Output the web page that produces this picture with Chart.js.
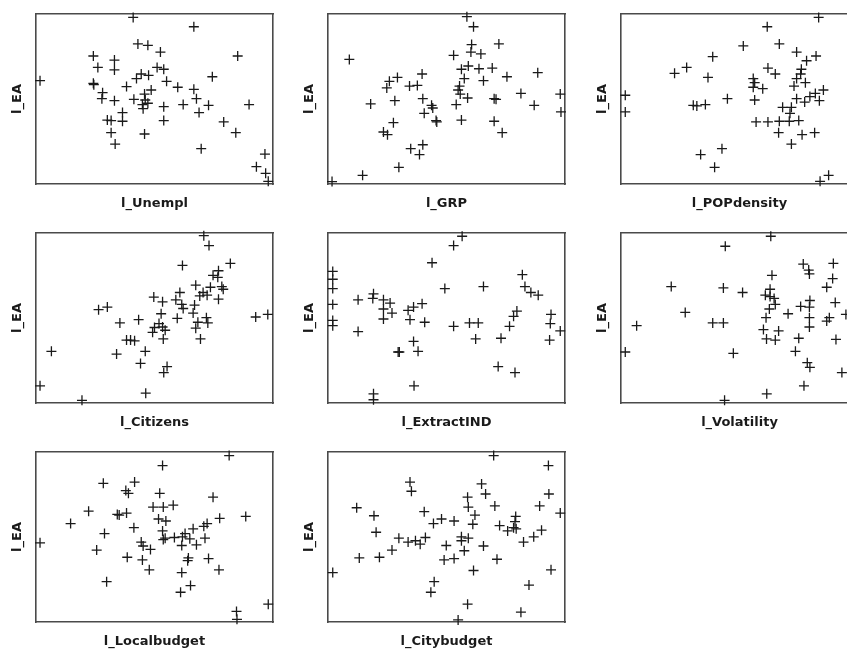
<!DOCTYPE html>
<html>
<head>
<meta charset="utf-8">
<title>l_EA scatter panels</title>
<script src="https://cdn.jsdelivr.net/npm/chart.js@4"></script>
<style>
  html, body { margin: 0; padding: 0; background: #fff; overflow: hidden; }
  body { width: 847px; height: 649px; position: relative; }
  .panel { position: absolute; }
</style>
</head>
<body>
<div id="wrap"></div>
<script>
'use strict';

// ── Data (values on a 0–100 scale inside each panel box) ──────────────────────

const unemplX = [41.0, 66.6, 43.0, 47.2, 52.5, 24.2, 85.1, 33.1, 26.1, 51.1, 53.9, 33.1, 44.4, 47.5, 42.4, 74.4, 1.7, 24.2, 24.4, 55.1, 38.2, 59.8, 66.6, 48.6, 28.1, 45.8, 27.8, 67.7, 33.1, 41.3, 46.1, 44.9, 47.2, 62.1, 72.8, 89.9, 53.9, 45.2, 36.5, 68.8, 30.1, 31.7, 36.5, 53.9, 79.2, 31.7, 45.8, 84.3, 33.4, 69.7, 96.6, 93.0, 96.9, 98.0];
const unemplY = [98.0, 92.5, 82.4, 81.6, 77.6, 75.3, 75.3, 72.9, 68.6, 68.6, 67.5, 67.1, 64.7, 63.9, 62.0, 63.1, 60.8, 59.2, 58.4, 60.4, 57.3, 56.9, 55.7, 55.3, 53.7, 52.9, 50.2, 50.2, 49.0, 49.8, 49.4, 46.7, 47.5, 46.7, 46.3, 46.7, 45.5, 44.3, 42.0, 42.0, 37.6, 37.3, 36.9, 37.3, 36.5, 30.2, 29.4, 30.2, 23.5, 20.8, 17.6, 10.2, 6.3, 1.6];

const grpX = [58.6, 61.4, 60.6, 72.1, 60.3, 64.5, 53.0, 9.0, 59.2, 56.3, 63.7, 69.3, 88.5, 39.7, 75.5, 29.3, 25.9, 57.5, 65.6, 34.4, 37.7, 24.8, 55.5, 54.9, 55.8, 81.4, 98.0, 58.9, 40.0, 70.1, 70.9, 28.2, 18.0, 54.1, 43.7, 44.2, 87.0, 40.6, 98.3, 45.6, 45.9, 56.3, 70.1, 27.6, 23.4, 25.1, 73.5, 40.0, 34.9, 38.6, 29.9, 14.6, 1.7];
const grpY = [98.4, 92.5, 82.0, 82.4, 77.6, 76.5, 75.7, 73.3, 69.4, 67.5, 67.8, 68.2, 65.5, 64.7, 63.1, 62.7, 60.4, 62.0, 60.8, 57.6, 58.0, 56.5, 57.6, 55.3, 52.9, 53.3, 52.9, 50.6, 50.2, 50.2, 49.8, 49.0, 47.1, 46.7, 46.3, 44.7, 46.3, 41.6, 42.4, 37.3, 36.5, 37.6, 36.9, 36.1, 30.6, 29.0, 30.2, 23.1, 20.8, 17.3, 9.8, 5.1, 1.4];

const popX = [83.4, 61.7, 51.6, 66.8, 38.7, 74.1, 82.3, 78.3, 27.7, 22.6, 62.0, 65.1, 76.1, 75.8, 36.7, 74.1, 55.8, 56.4, 77.8, 55.8, 73.0, 59.8, 1.8, 85.4, 82.0, 44.9, 56.4, 74.1, 79.7, 83.7, 77.5, 30.5, 32.0, 35.6, 1.8, 68.2, 71.9, 71.3, 57.0, 62.0, 66.8, 71.0, 75.0, 66.5, 76.4, 81.7, 71.9, 42.6, 33.6, 39.5, 87.6, 84.0];
const popY = [98.0, 92.5, 81.2, 82.4, 74.9, 77.6, 75.3, 72.5, 68.6, 65.1, 68.2, 64.7, 67.5, 64.7, 62.7, 62.0, 62.0, 59.6, 59.6, 56.9, 57.6, 56.1, 52.2, 55.3, 53.3, 50.2, 49.4, 50.2, 51.4, 49.0, 48.2, 46.3, 45.9, 46.7, 42.4, 45.1, 45.1, 41.6, 36.5, 36.5, 36.9, 36.9, 37.3, 30.2, 29.0, 30.2, 23.5, 20.8, 17.3, 9.8, 5.1, 1.6];

const citizensX = [70.8, 73.0, 61.8, 82.0, 77.0, 74.7, 76.7, 67.4, 73.6, 78.4, 79.0, 60.7, 70.5, 69.1, 72.2, 49.7, 53.4, 59.0, 77.0, 61.5, 62.1, 66.9, 26.4, 30.1, 52.8, 66.3, 71.9, 59.6, 92.7, 97.8, 43.3, 35.4, 51.9, 68.3, 72.5, 50.0, 53.4, 54.5, 49.2, 67.4, 38.2, 39.9, 41.6, 53.7, 69.4, 6.5, 46.1, 34.0, 44.1, 55.3, 53.9, 1.7, 46.3, 19.4];
const citizensY = [98.4, 92.6, 80.9, 82.1, 77.8, 75.1, 73.9, 69.3, 68.1, 68.5, 66.9, 65.0, 65.0, 63.0, 63.4, 62.3, 59.5, 60.7, 61.1, 58.0, 55.6, 57.6, 54.9, 56.4, 52.5, 52.9, 50.2, 49.8, 50.6, 52.1, 49.0, 47.1, 46.7, 47.5, 47.1, 44.4, 44.7, 42.8, 41.6, 44.0, 37.0, 37.0, 36.6, 37.7, 37.7, 30.4, 30.4, 28.8, 23.3, 21.4, 17.9, 10.1, 5.8, 1.6];

const extractX = [56.6, 53.0, 43.9, 2.0, 2.0, 2.0, 2.0, 2.0, 2.0, 82.0, 83.1, 65.6, 49.3, 85.6, 88.7, 19.2, 18.9, 12.7, 23.4, 26.2, 39.7, 36.1, 23.4, 33.8, 27.0, 79.7, 78.3, 94.1, 23.4, 34.6, 40.8, 59.7, 63.4, 93.8, 76.6, 53.0, 12.7, 98.0, 62.3, 73.0, 93.5, 36.1, 29.6, 30.1, 38.0, 71.8, 78.9, 36.3, 19.2, 19.2];
const extractY = [98.1, 92.6, 82.5, 77.4, 72.8, 67.3, 58.0, 48.6, 45.5, 75.5, 68.5, 68.5, 67.3, 65.0, 63.4, 64.2, 61.5, 60.7, 60.7, 58.8, 58.4, 56.4, 55.3, 54.5, 52.9, 54.1, 51.0, 52.1, 49.4, 49.0, 47.5, 47.1, 47.1, 46.7, 45.1, 45.1, 42.0, 42.4, 37.7, 38.1, 37.0, 36.2, 30.0, 30.0, 30.4, 21.4, 17.9, 10.1, 5.4, 1.9];

const volatilityX = [63.2, 44.0, 76.9, 89.6, 79.2, 79.5, 63.7, 89.3, 21.2, 43.2, 86.8, 62.9, 51.3, 60.9, 62.9, 64.6, 79.7, 90.4, 65.1, 75.8, 62.6, 79.5, 27.1, 70.5, 61.2, 79.5, 87.9, 86.8, 94.9, 6.6, 38.7, 43.2, 79.5, 60.1, 66.5, 61.4, 65.1, 75.0, 90.7, 1.8, 47.4, 73.6, 78.6, 79.7, 93.2, 77.2, 61.5, 43.7];
const volatilityY = [98.1, 92.2, 81.7, 82.1, 78.2, 75.9, 75.1, 73.2, 68.5, 67.7, 68.1, 66.9, 65.0, 63.4, 62.6, 61.5, 60.3, 59.1, 58.0, 56.8, 55.3, 56.4, 53.3, 52.5, 50.2, 50.2, 50.2, 48.2, 52.1, 45.5, 47.1, 47.1, 44.7, 43.2, 42.4, 37.7, 37.0, 38.1, 37.4, 30.0, 29.2, 30.4, 23.7, 21.0, 17.9, 10.1, 5.4, 1.6];

const localX = [81.5, 53.4, 28.4, 41.6, 37.9, 39.0, 52.2, 74.7, 49.4, 53.7, 57.9, 22.2, 34.3, 35.1, 38.2, 51.7, 54.8, 77.5, 88.5, 14.6, 72.2, 70.8, 41.3, 66.3, 53.4, 28.9, 62.9, 1.7, 53.7, 54.5, 58.4, 61.8, 64.9, 71.3, 44.4, 45.2, 61.5, 67.7, 48.3, 25.6, 38.5, 44.9, 64.3, 64.0, 72.8, 47.8, 61.5, 77.2, 29.8, 65.2, 61.0, 98.0, 84.6, 84.8];
const localY = [97.9, 92.0, 81.6, 82.3, 77.3, 75.7, 75.7, 73.4, 67.6, 67.6, 68.7, 65.2, 63.3, 62.9, 64.1, 60.6, 59.4, 61.0, 62.1, 57.9, 57.9, 56.3, 55.5, 54.8, 53.6, 52.0, 52.0, 46.6, 48.5, 49.3, 49.7, 50.1, 48.9, 49.3, 47.0, 44.7, 45.0, 45.4, 42.7, 42.3, 38.1, 36.5, 37.7, 36.1, 37.3, 30.7, 29.1, 30.7, 23.7, 21.4, 17.5, 10.5, 6.2, 1.6];

const cityX = [69.9, 93.0, 34.6, 35.2, 64.8, 66.5, 58.9, 93.2, 12.1, 59.2, 70.4, 89.3, 40.6, 98.0, 19.4, 62.0, 79.2, 47.9, 53.2, 44.5, 61.1, 78.9, 72.4, 78.3, 75.8, 79.4, 90.1, 20.3, 86.8, 29.9, 33.8, 36.9, 41.1, 38.9, 56.3, 59.2, 82.5, 56.3, 27.0, 49.9, 65.6, 57.5, 13.2, 21.7, 49.0, 53.2, 71.3, 2.0, 61.4, 94.1, 44.8, 43.4, 84.8, 58.9, 81.4, 54.9];
const cityY = [97.9, 92.0, 82.3, 76.9, 81.2, 75.3, 73.4, 75.3, 67.2, 67.6, 68.3, 68.3, 64.9, 64.1, 62.5, 62.9, 62.1, 60.6, 59.4, 57.9, 57.5, 59.0, 56.7, 55.5, 53.6, 54.8, 54.0, 52.8, 50.1, 49.3, 47.0, 47.8, 49.7, 45.8, 50.1, 49.3, 47.0, 47.8, 42.3, 45.0, 44.7, 41.9, 37.7, 38.1, 36.5, 37.3, 36.9, 29.1, 30.3, 30.7, 23.7, 17.5, 21.7, 10.5, 5.8, 1.2];

const xLabels = ['l_Unempl', 'l_GRP', 'l_POPdensity', 'l_Citizens', 'l_ExtractIND', 'l_Volatility', 'l_Localbudget', 'l_Citybudget'];
const yLabel = 'l_EA';

// ── Layout ────────────────────────────────────────────────────────────────────

const INK = '#1a1a1a';
const FRAME = '#4a4a4a';
const FONT = "'DejaVu Sans', Verdana, sans-serif";
const COL_LEFT = [0, 292, 585];
const ROW_TOP = [0, 219, 438];
const CANVAS_W = 287;
const CANVAS_H = 214;

Chart.defaults.font.family = FONT;
Chart.defaults.color = INK;

const series = [
  [unemplX, unemplY], [grpX, grpY], [popX, popY],
  [citizensX, citizensY], [extractX, extractY], [volatilityX, volatilityY],
  [localX, localY], [cityX, cityY],
];

const titleFont = { family: FONT, size: 13, weight: 'bold', lineHeight: '15px' };

function hiddenAxis(position) {
  return {
    type: 'linear',
    position: position,
    min: 0,
    max: 100,
    ticks: { display: false },
    grid: { display: false, drawTicks: false },
    border: { display: true, color: FRAME, width: 1.6 },
  };
}

function makePanel(i) {
  const [xs, ys] = series[i];
  const wrap = document.createElement('div');
  wrap.className = 'panel';
  wrap.style.left = COL_LEFT[i % 3] + 'px';
  wrap.style.top = ROW_TOP[Math.floor(i / 3)] + 'px';
  const canvas = document.createElement('canvas');
  canvas.width = CANVAS_W;
  canvas.height = CANVAS_H;
  wrap.appendChild(canvas);
  document.getElementById('wrap').appendChild(wrap);

  const points = xs.map((x, k) => ({ x: x, y: ys[k] }));

  const xAxis = hiddenAxis('bottom');
  xAxis.title = { display: true, text: xLabels[i], font: titleFont, color: INK, padding: { top: 12, bottom: 0 } };
  const yAxis = hiddenAxis('left');
  yAxis.title = { display: true, text: yLabel, font: titleFont, color: INK, padding: { top: 10.5, bottom: 10.5 } };

  new Chart(canvas.getContext('2d'), {
    type: 'scatter',
    data: {
      datasets: [{
        label: xLabels[i],
        data: points,
        pointStyle: 'cross',
        pointRadius: 5,
        pointHoverRadius: 5,
        pointBorderWidth: 1.3,
        borderColor: INK,
        backgroundColor: INK,
        clip: false,
      }],
    },
    options: {
      responsive: false,
      animation: false,
      layout: { padding: { top: 14, right: 14, bottom: 3, left: 0 } },
      plugins: { legend: { display: false }, tooltip: { enabled: false } },
      scales: {
        x: xAxis,
        y: yAxis,
        xTop: hiddenAxis('top'),
        yRight: hiddenAxis('right'),
      },
    },
  });
}

for (let i = 0; i < series.length; i++) makePanel(i);
</script>
</body>
</html>
